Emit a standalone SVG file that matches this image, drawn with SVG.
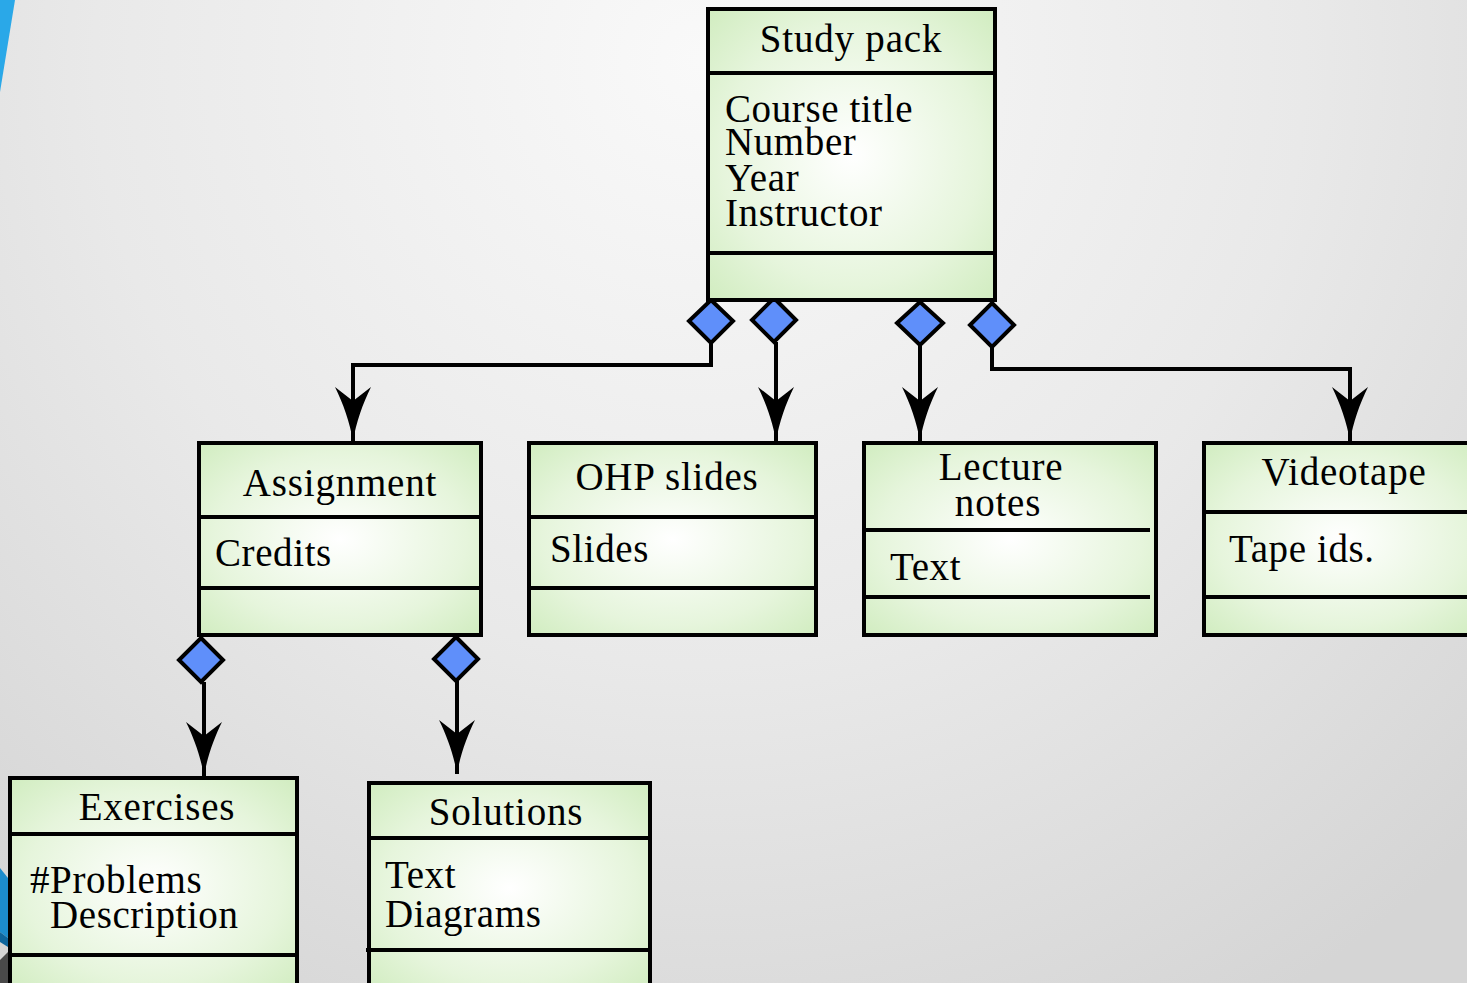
<svg xmlns="http://www.w3.org/2000/svg" width="1467" height="983" viewBox="0 0 1467 983">
  <defs>
    <radialGradient id="bg" cx="700" cy="60" r="1100" gradientUnits="userSpaceOnUse">
      <stop offset="0" stop-color="#f9f9f9"/>
      <stop offset="0.55" stop-color="#e9e9e9"/>
      <stop offset="1" stop-color="#d5d5d5"/>
    </radialGradient>
    <radialGradient id="box" cx="0.5" cy="0.5" r="0.75">
      <stop offset="0" stop-color="#ffffff"/>
      <stop offset="0.6" stop-color="#e6f5dc"/>
      <stop offset="1" stop-color="#cdebbb"/>
    </radialGradient>
    <marker id="barb" viewBox="-56 -20 58 40" refX="0" refY="0" markerWidth="58" markerHeight="40" markerUnits="userSpaceOnUse" orient="auto" overflow="visible">
      <path d="M0 0 C-18 -3 -38 -10 -54 -18 L-40 0 L-54 18 C-38 10 -18 3 0 0 Z" fill="#000"/>
    </marker>
    <style>
      .node rect { fill: url(#box); stroke: #000; stroke-width: 4; }
      .node line { stroke: #000; stroke-width: 4; }
      text { font-family: 'Liberation Serif', 'DejaVu Serif', serif; }
      .title { font-size: 39px; fill: #000; text-anchor: middle; letter-spacing: 0.8px; }
      .attr { font-size: 39px; fill: #000; letter-spacing: 0.6px; }
      .dia { fill: #5f8ffa; stroke: #000; stroke-width: 4; stroke-linejoin: miter; }
      .wire { fill: none; stroke: #000; stroke-width: 4; }
    </style>
  </defs>

  <!-- backdrop -->
  <rect x="0" y="0" width="1467" height="983" fill="url(#bg)"/>
  <polygon points="0,0 15,0 0,92" fill="#2aa8e8"/>
  <polygon points="0,868 8,878 8,938 0,932" fill="#1c8ccd"/>
  <polygon points="0,932 8,938 8,947 0,942" fill="#0f659c"/>
  <polygon points="0,960 8,952 8,983 0,983" fill="#4a4a4a"/>

  <!-- connectors -->
  <g id="connectors">
    <path class="wire" d="M711 343 V365 H353 V441" marker-end="url(#barb)"/>
    <path class="wire" d="M776 342 V441" marker-end="url(#barb)"/>
    <path class="wire" d="M920 345 V441" marker-end="url(#barb)"/>
    <path class="wire" d="M992 347 V369 H1350 V441" marker-end="url(#barb)"/>
    <path class="wire" d="M204 682 V776" marker-end="url(#barb)"/>
    <path class="wire" d="M457 681 V774" marker-end="url(#barb)"/>
    <polygon class="dia" points="711,300 733,321 711,343 689,321"/>
    <polygon class="dia" points="774,298 796,320 774,342 752,320"/>
    <polygon class="dia" points="920,302 943,323 920,345 897,323"/>
    <polygon class="dia" points="992,303 1014,325 992,347 970,325"/>
    <polygon class="dia" points="201,638 223,660 201,682 179,660"/>
    <polygon class="dia" points="456,637 478,659 456,681 434,659"/>
  </g>

  <!-- Study pack -->
  <g id="study-pack" class="node">
    <rect x="708" y="9" width="287" height="291"/>
    <line x1="708" y1="73" x2="997" y2="73"/>
    <line x1="708" y1="253" x2="995" y2="253"/>
    <text class="title" x="851" y="52">Study pack</text>
    <text class="attr" x="725" y="122">Course title</text>
    <text class="attr" x="725" y="155">Number</text>
    <text class="attr" x="725" y="191">Year</text>
    <text class="attr" x="725" y="226">Instructor</text>
  </g>

  <!-- Assignment -->
  <g id="assignment" class="node">
    <rect x="199" y="443" width="282" height="192"/>
    <line x1="197" y1="517" x2="483" y2="517"/>
    <line x1="199" y1="588" x2="481" y2="588"/>
    <text class="title" x="340" y="496">Assignment</text>
    <text class="attr" x="215" y="566">Credits</text>
  </g>

  <!-- OHP slides -->
  <g id="ohp-slides" class="node">
    <rect x="529" y="443" width="287" height="192"/>
    <line x1="529" y1="517" x2="818" y2="517"/>
    <line x1="529" y1="588" x2="816" y2="588"/>
    <text class="title" x="667" y="490">OHP slides</text>
    <text class="attr" x="550" y="562">Slides</text>
  </g>

  <!-- Lecture notes -->
  <g id="lecture-notes" class="node">
    <rect x="864" y="443" width="292" height="192"/>
    <line x1="864" y1="530" x2="1150" y2="530"/>
    <line x1="864" y1="597" x2="1150" y2="597"/>
    <text class="title" x="1001" y="480">Lecture</text>
    <text class="title" x="998" y="516">notes</text>
    <text class="attr" x="890" y="580">Text</text>
  </g>

  <!-- Videotape -->
  <g id="videotape" class="node">
    <rect x="1204" y="443" width="275" height="192"/>
    <line x1="1202" y1="512" x2="1479" y2="512"/>
    <line x1="1204" y1="597" x2="1479" y2="597"/>
    <text class="title" x="1344" y="485">Videotape</text>
    <text class="attr" x="1229" y="562">Tape ids.</text>
  </g>

  <!-- Exercises -->
  <g id="exercises" class="node">
    <rect x="10" y="778" width="287" height="215"/>
    <line x1="10" y1="834" x2="299" y2="834"/>
    <line x1="10" y1="955" x2="297" y2="955"/>
    <text class="title" x="157" y="820">Exercises</text>
    <text class="attr" x="30" y="893">#Problems</text>
    <text class="attr" x="50" y="928">Description</text>
  </g>

  <!-- Solutions -->
  <g id="solutions" class="node">
    <rect x="369" y="783" width="281" height="210"/>
    <line x1="369" y1="838" x2="650" y2="838"/>
    <line x1="366" y1="950" x2="650" y2="950"/>
    <text class="title" x="506" y="825">Solutions</text>
    <text class="attr" x="385" y="888">Text</text>
    <text class="attr" x="385" y="927">Diagrams</text>
  </g>
</svg>
